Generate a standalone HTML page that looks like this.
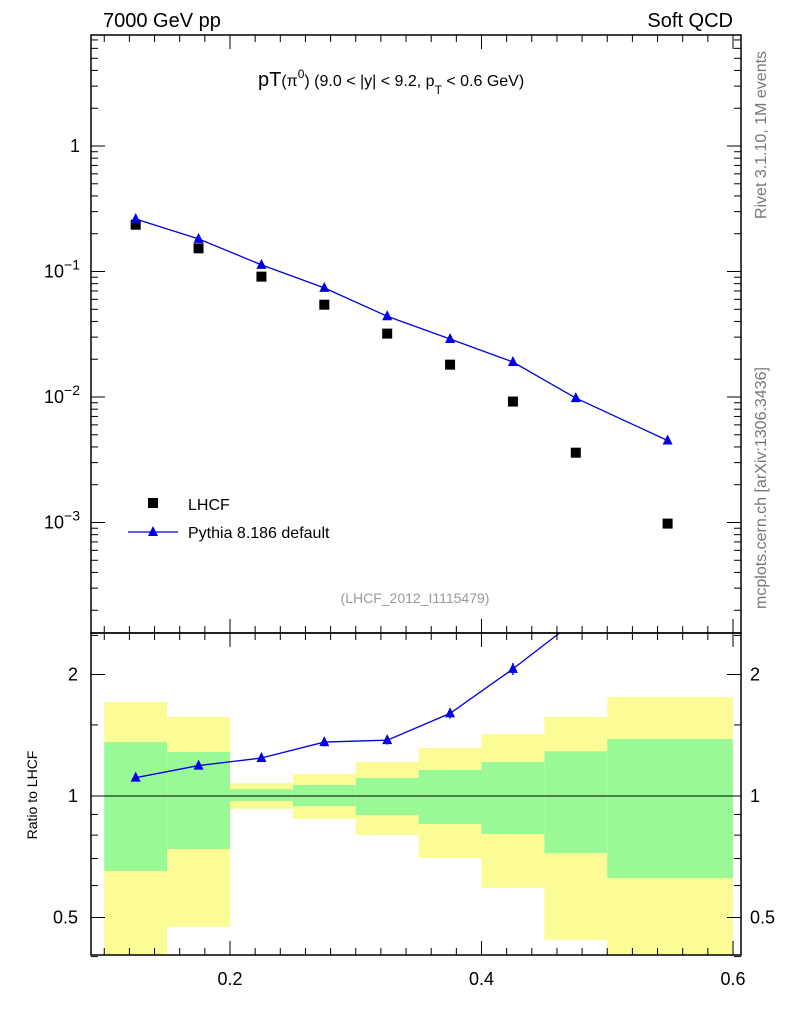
<!DOCTYPE html>
<html><head><meta charset="utf-8"><style>
body{margin:0;background:#fff;width:786px;height:1024px;overflow:hidden;font-family:"Liberation Sans",sans-serif}
svg text{font-family:"Liberation Sans",sans-serif}
</style></head><body>
<svg id="c" width="786" height="1024" xmlns="http://www.w3.org/2000/svg"></svg>
<script>
const binEdges=[0.1,0.15,0.2,0.25,0.3,0.35,0.4,0.45,0.5,0.6];
const xMids=[0.125,0.175,0.225,0.275,0.325,0.375,0.425,0.475,0.548];
const lhcf=[0.236,0.153,0.091,0.0544,0.032,0.0181,0.0092,0.0036,0.00098];
const pythia=[0.262,0.182,0.113,0.074,0.044,0.029,0.019,0.0098,0.0045];
const pythiaRelErr=[0.02,0.02,0.02,0.025,0.025,0.03,0.035,0.04,0.05];
const statHi=[1.36,1.285,1.04,1.065,1.108,1.16,1.214,1.29,1.384];
const statLo=[0.652,0.739,0.972,0.944,0.897,0.852,0.805,0.722,0.626];
const totHi=[1.71,1.57,1.077,1.134,1.214,1.315,1.424,1.57,1.76];
const totLo=[0.35,0.474,0.929,0.877,0.80,0.702,0.592,0.44,0.35];
const xTicks=[0.2,0.4,0.6];
const yMainTicks=[1,0.1,0.01,0.001];
const yMainLabels=[["1",""],["10","−1"],["10","−2"],["10","−3"]];
const yRatioTicks=[0.5,1,2];
const yRatioLabels=["0.5","1","2"];

const L=91,R=741,T=35,MB=633,RB=955;
const sx=v=>230+(v-0.2)*1257.5;
const syM=v=>146-Math.log10(v)*125.5;
const syR=v=>796-Math.log2(v)*121.5;
const s=document.getElementById('c');const NS="http://www.w3.org/2000/svg";
function el(t,a,p){const e=document.createElementNS(NS,t);for(const k in a)e.setAttribute(k,a[k]);(p||s).appendChild(e);return e;}
function tx(x,y,str,a){const e=el('text',Object.assign({x:x,y:y,'font-size':17,fill:'#000'},a||{}));e.textContent=str;return e;}
const clip=el('clipPath',{id:'rc'});el('rect',{x:L,y:MB,width:R-L,height:RB-MB},clip);
const clipM=el('clipPath',{id:'mc'});el('rect',{x:L,y:T,width:R-L,height:MB-T},clipM);
const gB=el('g',{'clip-path':'url(#rc)'});
for(let i=0;i<lhcf.length;i++){
 const x0=sx(binEdges[i]),x1=sx(binEdges[i+1]);
 const y=el('rect',{x:x0,y:syR(totHi[i]),width:x1-x0,height:syR(totLo[i])-syR(totHi[i]),fill:'#fcfc96'},gB);
 
 const g=el('rect',{x:x0,y:syR(statHi[i]),width:x1-x0,height:syR(statLo[i])-syR(statHi[i]),fill:'#99f997'},gB);
 
}
el('line',{x1:L,x2:R,y1:syR(1),y2:syR(1),stroke:'#000','stroke-width':1},gB);
const mids=xMids;
el('polyline',{points:mids.map((m,i)=>sx(m)+','+syR(pythia[i]/lhcf[i])).join(' '),fill:'none',stroke:'#0000e0','stroke-width':1.3},gB);
mids.forEach((m,i)=>{const r=pythia[i]/lhcf[i];const x=sx(m),y=syR(r);
 el('line',{x1:x,x2:x,y1:syR(r*(1+pythiaRelErr[i])),y2:syR(r*(1-pythiaRelErr[i])),stroke:'#0000e0','stroke-width':1.3},gB);
 const p=el('polygon',{points:`${x},${y-6} ${x-5},${y+4} ${x+5},${y+4}`,fill:'#0000e0'},gB);
 });
const gM=el('g',{'clip-path':'url(#mc)'});
el('polyline',{points:mids.map((m,i)=>sx(m)+','+syM(pythia[i])).join(' '),fill:'none',stroke:'#0000e0','stroke-width':1.3},gM);
mids.forEach((m,i)=>{const x=sx(m);
 const q=el('rect',{x:x-5,y:syM(lhcf[i])-5,width:10,height:10,fill:'#000'},gM);
 
 const y=syM(pythia[i]);
 const p=el('polygon',{points:`${x},${y-6} ${x-5},${y+4} ${x+5},${y+4}`,fill:'#0000e0'},gM);
 });
el('rect',{x:L,y:T,width:R-L,height:MB-T,fill:'none',stroke:'#000','stroke-width':1.5});
el('rect',{x:L,y:MB,width:R-L,height:RB-MB,fill:'none',stroke:'#000','stroke-width':1.5});
for(let v=0.1;v<=0.6001;v+=0.02){const x=sx(v);const maj=Math.abs(v*10-Math.round(v*10))<1e-6&&Math.round(v*10)%2==0;const len=maj?14:7;
 [[T,1],[MB,-1],[MB,1],[RB,-1]].forEach(([y0,d])=>el('line',{x1:x,x2:x,y1:y0,y2:y0+d*len,stroke:'#000'}));}
xTicks.forEach(v=>tx(sx(v),985,String(v),{'text-anchor':'middle','font-size':18}));
for(let d=-4;d<=0;d++)for(let k=1;k<10;k++){const v=k*Math.pow(10,d);const y=syM(v);if(y<T||y>MB)continue;const len=k==1?14:7;
 el('line',{x1:L,x2:L+len,y1:y,y2:y,stroke:'#000'});el('line',{x1:R,x2:R-len,y1:y,y2:y,stroke:'#000'});}
yMainTicks.forEach((v,i)=>{const y=syM(v);const t=tx(80,y+6,yMainLabels[i][0],{'text-anchor':'end','font-size':18});
 if(yMainLabels[i][1]){t.setAttribute('x',80);t.setAttribute('text-anchor','end');const s2=el('tspan',{dy:-8,'font-size':14});s2.textContent=yMainLabels[i][1];t.appendChild(s2);}});
[0.4,0.5,0.6,0.7,0.8,0.9,1,1.5,2,2.5].forEach(v=>{const y=syR(v);const maj=yRatioTicks.includes(v);const len=maj?14:7;
 el('line',{x1:L,x2:L+len,y1:y,y2:y,stroke:'#000'});el('line',{x1:R,x2:R-len,y1:y,y2:y,stroke:'#000'});});
yRatioTicks.forEach((v,i)=>{tx(78,syR(v)+6,yRatioLabels[i],{'text-anchor':'end','font-size':18});tx(750,syR(v)+6,yRatioLabels[i],{'font-size':18});});
tx(103,27,'7000 GeV pp',{'font-size':20});
tx(733,27,'Soft QCD',{'font-size':20,'text-anchor':'end'});
const ti=tx(258,86,'pT',{'font-size':20});
[['(π',16,0],['0',12,-8],[') (9.0 < |y| < 9.2, p',16,8],['T',12,8],[' < 0.6 GeV)',16,-8]].forEach(([t,f,dy])=>{const sp=el('tspan',{'font-size':f,dy:dy},ti);sp.textContent=t;});
tx(415,603,'(LHCF_2012_I1115479)',{'font-size':14,fill:'#999','text-anchor':'middle'});
tx(37,795,'Ratio to LHCF',{'font-size':14,'text-anchor':'middle',transform:'rotate(-90 37 795)'});
tx(766,135,'Rivet 3.1.10,  1M events',{'font-size':16,fill:'#777','text-anchor':'middle',transform:'rotate(-90 766 135)'});
tx(766,488,'mcplots.cern.ch [arXiv:1306.3436]',{'font-size':16,fill:'#777','text-anchor':'middle',transform:'rotate(-90 766 488)'});
el('rect',{x:148,y:498,width:10,height:10,fill:'#000'});
tx(188,510,'LHCF',{'font-size':16});
el('line',{x1:128,x2:178,y1:532,y2:532,stroke:'#0000e0','stroke-width':1.3});
el('polygon',{points:'153,526 148,536 158,536',fill:'#0000e0'});
tx(188,538,'Pythia 8.186 default',{'font-size':16});
</script>
</body></html>
